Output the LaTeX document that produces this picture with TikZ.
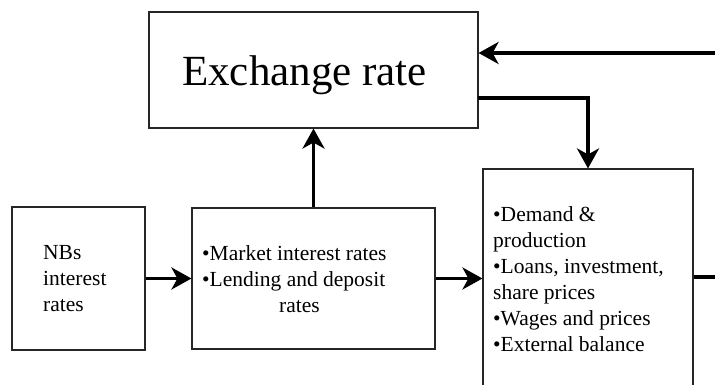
\documentclass[tikz,border=0pt]{standalone}
\usepackage{fontspec}
\setmainfont{Liberation Serif}
\usetikzlibrary{arrows.meta}
\tikzset{
  x=1pt,y=1pt,
  boxnode/.style={draw=black!85,line width=1.1pt,rectangle,inner sep=0pt},
  txt/.style={anchor=base west,inner sep=0pt,font=\fontsize{21.5}{26}\selectfont},
  arr/.style={line width=3.4pt,-{Stealth[length=20pt,width=22pt,inset=6pt]}},
  plainline/.style={line width=3.4pt}
}
\begin{document}
\begin{tikzpicture}
\useasboundingbox (0,0) rectangle (715,385);
\clip (0,0) rectangle (715,385);
\fill[white] (0,0) rectangle (715,385);
% boxes
\node[boxnode,minimum width=329pt,minimum height=116pt] (ex) at (313.5,315) {};
\node[boxnode,minimum width=133pt,minimum height=143pt] (nbs) at (78.5,106.5) {};
\node[boxnode,minimum width=243pt,minimum height=141pt] (mkt) at (313.5,106.5) {};
\node[boxnode,minimum width=210pt,minimum height=256pt] (rb) at (588,88) {};
% texts
\node[anchor=base west,inner sep=0pt,font=\fontsize{43}{50}\selectfont] (extxt) at (182,299) {Exchange rate};
\node[txt] (nbstxt) at (43,125) {\begin{tabular}[t]{@{}l@{}}NBs\\interest\\rates\end{tabular}};
\node[txt] (mkttxt) at (202,124) {\begin{tabular}[t]{@{}l@{}}•Market interest rates\\•Lending and deposit\\\hspace*{77pt}rates\end{tabular}};
\node[txt] (rbtxt) at (493,163) {\begin{tabular}[t]{@{}l@{}}•Demand \&\\production\\•Loans, investment,\\share prices\\•Wages and prices\\•External balance\end{tabular}};
% connectors
\coordinate (inR) at (715,332);
\coordinate (outR) at (715,108);
\coordinate (exOut) at (478,287);
\draw[arr] (inR) -- (ex.east |- inR);
\draw[arr] (exOut) -| (rb.north);
\draw[arr] (mkt.north) -- (ex.south);
\draw[arr] (nbs.east) -- (mkt.west);
\draw[arr] (mkt.east) -- (mkt.east -| rb.west);
\draw[plainline] (rb.east |- outR) -- (outR);
\end{tikzpicture}
\end{document}
